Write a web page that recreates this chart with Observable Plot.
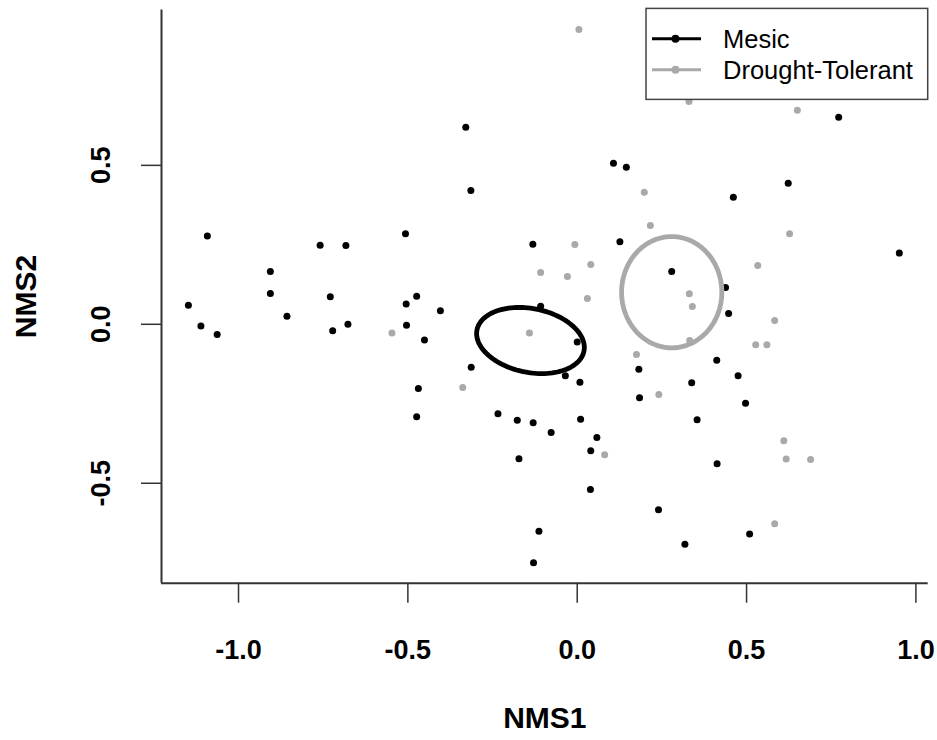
<!DOCTYPE html>
<html>
<head>
<meta charset="utf-8">
<script src="https://cdn.jsdelivr.net/npm/d3@7"></script>
<script src="https://cdn.jsdelivr.net/npm/@observablehq/plot@0.6"></script>
<style>
  body { margin: 0; background: #ffffff; }
  #chart { position: relative; width: 937px; height: 740px; }
</style>
</head>
<body>
<div id="chart"></div>
<script>
// NMS site scores, Mesic group
const mesicX = [-0.329, -0.314, 0.107, 0.145, 0.772, 0.623, 0.461, -1.092, -1.148, -1.111,
  -1.063, -0.906, -0.906, -0.857, -0.759, -0.683, -0.729, -0.722, -0.677, -0.507,
  -0.474, -0.505, -0.504, -0.469, -0.474, -0.404, -0.451, -0.131, 0.126, -0.108,
  0.000, -0.313, -0.035, 0.008, 0.182, 0.951, 0.279, 0.438, 0.447, 0.412,
  0.475, 0.338, -0.234, -0.177, -0.130, -0.077, 0.010, 0.058, 0.040, -0.172,
  0.039, 0.184, 0.240, -0.113, -0.129, 0.497, 0.354, 0.413, 0.509, 0.318];
const mesicY = [0.620, 0.421, 0.507, 0.494, 0.651, 0.444, 0.400, 0.278, 0.060, -0.005,
  -0.032, 0.166, 0.097, 0.025, 0.249, 0.248, 0.087, -0.020, 0.000, 0.285,
  0.088, 0.064, -0.003, -0.202, -0.291, 0.043, -0.049, 0.252, 0.260, 0.057,
  -0.056, -0.135, -0.162, -0.182, -0.141, 0.224, 0.166, 0.116, 0.034, -0.113,
  -0.162, -0.184, -0.281, -0.302, -0.310, -0.340, -0.299, -0.356, -0.398, -0.423,
  -0.520, -0.231, -0.583, -0.651, -0.750, -0.248, -0.300, -0.439, -0.660, -0.692];

// NMS site scores, Drought-Tolerant group
const droughtX = [0.005, 0.198, 0.330, 0.650, 0.216, -0.007, 0.040, -0.108, -0.029, 0.030,
  -0.547, -0.141, 0.175, -0.338, 0.627, 0.533, 0.331, 0.340, 0.583, 0.527,
  0.560, 0.332, 0.081, 0.241, 0.610, 0.617, 0.689, 0.583];
const droughtY = [0.927, 0.415, 0.701, 0.673, 0.311, 0.251, 0.188, 0.163, 0.150, 0.081,
  -0.027, -0.027, -0.095, -0.199, 0.285, 0.185, 0.096, 0.056, 0.012, -0.064,
  -0.064, -0.051, -0.410, -0.221, -0.366, -0.424, -0.425, -0.627];

// Group labels and colours
const groupNames = ["Mesic", "Drought-Tolerant"];
const groupColors = ["#000000", "#a9a9a9"];

// Confidence ellipses: centre, half-extent along each axis, correlation
const ellipseCx = [-0.138, 0.279];
const ellipseCy = [-0.051, 0.101];
const ellipseRx = [0.159, 0.148];
const ellipseRy = [0.104, 0.175];
const ellipseRho = [-0.21, 0.0];

// Axis ticks
const xTicks = [-1.0, -0.5, 0.0, 0.5, 1.0];
const yTicks = [-0.5, 0.0, 0.5];

// ---- build tables for Plot ----
const points = [];
mesicX.forEach((x, i) => points.push({x, y: mesicY[i], group: groupNames[0]}));
droughtX.forEach((x, i) => points.push({x, y: droughtY[i], group: groupNames[1]}));

const ellipsePts = [];
groupNames.forEach((g, k) => {
  const s = Math.sqrt(1 - ellipseRho[k] ** 2);
  for (let i = 0; i <= 120; i++) {
    const t = (i / 120) * 2 * Math.PI;
    ellipsePts.push({
      group: g,
      x: ellipseCx[k] + ellipseRx[k] * Math.cos(t),
      y: ellipseCy[k] + ellipseRy[k] * (ellipseRho[k] * Math.cos(t) + s * Math.sin(t))
    });
  }
});

const W = 937, H = 740;
const mL = 161, mR = 9.3, mT = 9.4, mB = 157.3;
const xDomain = [-1.2274, 1.0363];
const yDomain = [-0.8144, 0.989];
const fmt = d => d.toFixed(1);
const font = "'Liberation Sans', Arial, Helvetica, sans-serif";
const axisColor = "#333333";

const chart = Plot.plot({
  width: W,
  height: H,
  marginLeft: mL,
  marginRight: mR,
  marginTop: mT,
  marginBottom: mB,
  style: {fontFamily: font, background: "#ffffff", color: "#000000"},
  x: {domain: xDomain},
  y: {domain: yDomain},
  color: {domain: groupNames, range: groupColors},
  marks: [
    Plot.dot(points, {x: "x", y: "y", fill: "group", r: 3.5, stroke: null}),
    Plot.line(ellipsePts, {x: "x", y: "y", z: "group", stroke: "group", strokeWidth: 4.8, curve: "linear"}),
    Plot.ruleX([xDomain[0]], {stroke: axisColor, strokeWidth: 2}),
    Plot.ruleY([yDomain[0]], {stroke: axisColor, strokeWidth: 2}),
    Plot.axisX({ticks: xTicks, tickSize: 20, tickPadding: 37, tickFormat: fmt, fontSize: 27,
      fontWeight: "bold", label: null, stroke: axisColor, strokeWidth: 1.5, fill: "#000"}),
    Plot.axisY({ticks: yTicks, tickSize: 20, tickPadding: 32, tickFormat: fmt, tickRotate: -90,
      fontSize: 27, fontWeight: "bold", label: null, stroke: axisColor, strokeWidth: 1.5, fill: "#000"}),
    Plot.text(["NMS1"], {frameAnchor: "bottom", dy: 135.5, lineAnchor: "middle",
      fontSize: 30, fontWeight: "bold", fill: "#000"}),
    Plot.text(["NMS2"], {frameAnchor: "left", dx: -135, rotate: -90, lineAnchor: "middle",
      textAnchor: "middle", fontSize: 30, fontWeight: "bold", fill: "#000"})
  ]
});

document.getElementById("chart").appendChild(chart);

// Legend box in the top-right corner of the plotting region
const svg = d3.select(chart);
const boxW = 281.7, boxH = 91;
const boxX = W - mR - boxW, boxY = mT - 1;
const lg = svg.append("g").attr("transform", `translate(${boxX},${boxY})`);
lg.append("rect")
  .attr("x", 0).attr("y", 0).attr("width", boxW).attr("height", boxH)
  .attr("fill", "#ffffff").attr("stroke", "#444444").attr("stroke-width", 1.5);
groupNames.forEach((g, i) => {
  const cy = 30.3 + i * 31;
  lg.append("line").attr("x1", 6).attr("x2", 55).attr("y1", cy).attr("y2", cy)
    .attr("stroke", groupColors[i]).attr("stroke-width", 3);
  lg.append("circle").attr("cx", 29.5).attr("cy", cy).attr("r", 4)
    .attr("fill", groupColors[i]);
  lg.append("text").attr("x", 77).attr("y", cy).attr("dy", "0.36em")
    .attr("text-anchor", "start")
    .attr("font-family", font).attr("font-size", 25.5).attr("fill", "#000")
    .text(g);
});
</script>
</body>
</html>
